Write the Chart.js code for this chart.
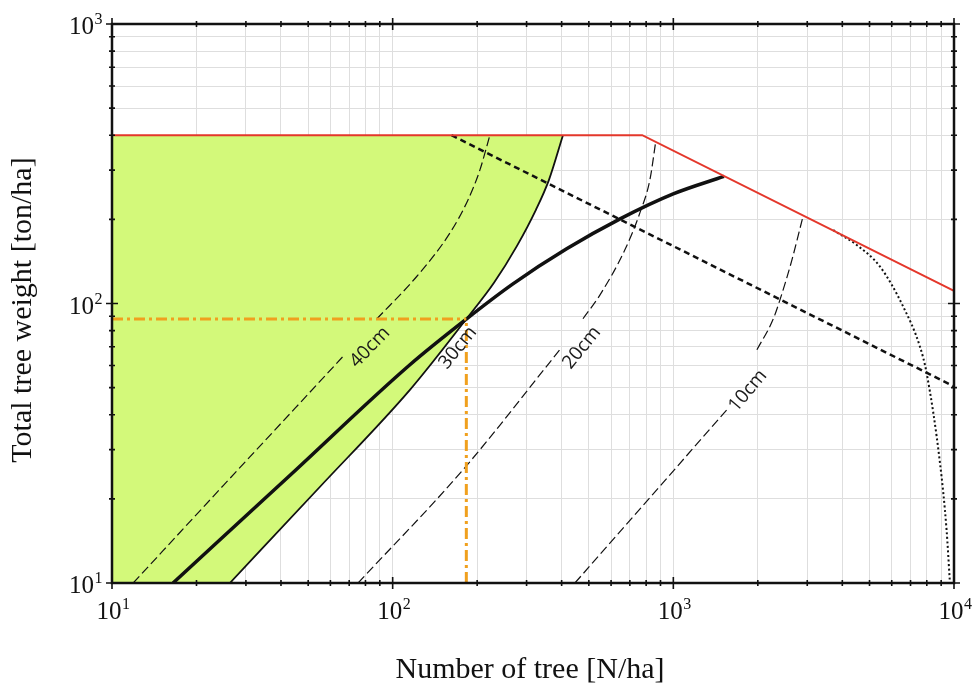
<!DOCTYPE html>
<html>
<head>
<meta charset="utf-8">
<script src="https://cdn.jsdelivr.net/npm/chart.js@4.4.1/dist/chart.umd.min.js"></script>
<style>
html, body { margin: 0; padding: 0; background: #ffffff; }
canvas { display: block; }
</style>
</head>
<body>
<canvas id="grafico" width="977" height="693"></canvas>
<script>
// marcas de los ejes (escala logaritmica)
const xTicks = [10, 20, 30, 40, 50, 60, 70, 80, 90, 100, 200, 300, 400, 500, 600, 700, 800, 900,
    1000, 2000, 3000, 4000, 5000, 6000, 7000, 8000, 9000, 10000];
const yTicks = [10, 20, 30, 40, 50, 60, 70, 80, 90, 100, 200, 300, 400, 500, 600, 700, 800, 900, 1000];
const majorTicks = [10, 100, 1000, 10000];
const xLabels = [[10, '1'], [100, '2'], [1000, '3'], [10000, '4']];
const yLabels = [[10, '1'], [100, '2'], [1000, '3']];

// linea limite (roja)
const limiteN = [10, 775, 10000];
const limiteW = [400, 400, 111];

// linea gruesa
const mediaN = [16.5, 43.1, 115.2, 183, 268.3, 416.8, 646, 999, 1515];
const mediaW = [10, 24.3, 60.4, 88, 117.6, 156.9, 200.8, 246.7, 285];

// borde de la zona verde (30cm)
const cm30N = [26.3, 55.1, 115.2, 183, 229.6, 277.3, 323.9, 360.5, 404.3];
const cm30W = [10, 22.1, 49.1, 88, 118.6, 160.8, 216.3, 276.9, 400];
const franjaN = [10, 27];
const franjaW = [10, 10];

// recta discontinua
const rectaN = [162, 10000];
const rectaW = [400, 50.5];

// curva punteada
const puntosN = [3713, 4500, 5448, 6590, 7559, 7988, 8913, 9408, 9672];
const puntosW = [183, 162, 135.6, 97.5, 70.2, 56.4, 26.9, 15.5, 10];

// curvas de diametro (null = hueco para la etiqueta)
const cm40N = [11.9, 25, 45, 66.5, 77, 87.7, 121.8, 160, 185.5, 204.6, 222];
const cm40W = [10, 22.4, 42.3, 64.6, null, 88, 124.9, 178.8, 234.8, 300.6, 400];
const cm20N = [75.3, 178, 394, 430, 476.6, 548, 672, 760, 825, 865];
const cm20W = [10, 25.4, 68.3, null, 88.2, 107.4, 155.6, 211, 276.9, 378];
const cm10N = [446, 825, 1552, 1750, 1985, 2263, 2398, 2646, 2895];
const cm10W = [10, 20.2, 41.7, null, 68.3, 87.4, 103, 143.3, 204.2];

// lineas naranjas
const naranjaHN = [10, 183];
const naranjaHW = [88, 88];
const naranjaVN = [183, 183];
const naranjaVW = [10, 88];

// etiquetas de las curvas
const etiquetas = [
    { texto: '40cm', n: 83, w: 69.7, ang: -46 },
    { texto: '30cm', n: 170.9, w: 69.4, ang: -51 },
    { texto: '20cm', n: 472, w: 69.4, ang: -51 },
    { texto: '10cm', n: 1844, w: 48.7, ang: -50 }
];

const puntos = (xs, ys) => xs.map((x, i) => ({ x: x, y: ys[i] }));

const linea = (xs, ys, extra) => Object.assign({
    data: puntos(xs, ys),
    borderColor: '#111111',
    borderWidth: 1,
    pointRadius: 0,
    fill: false,
    tension: 0,
    spanGaps: false
}, extra);

const marco = {
    id: 'marco',
    afterDatasetsDraw(chart) {
        const ctx = chart.ctx;
        const a = chart.chartArea;
        const x = chart.scales.x;
        const y = chart.scales.y;
        ctx.save();
        ctx.strokeStyle = '#111111';
        ctx.lineWidth = 2.5;
        ctx.strokeRect(a.left, a.top, a.right - a.left, a.bottom - a.top);
        ctx.lineWidth = 1.6;
        ctx.beginPath();
        xTicks.forEach(v => {
            const px = x.getPixelForValue(v);
            const l = majorTicks.includes(v) ? 6 : 3;
            ctx.moveTo(px, a.top - l); ctx.lineTo(px, a.top + l);
            ctx.moveTo(px, a.bottom - l); ctx.lineTo(px, a.bottom + l);
        });
        yTicks.forEach(v => {
            const py = y.getPixelForValue(v);
            const l = majorTicks.includes(v) ? 6 : 3;
            ctx.moveTo(a.left - l, py); ctx.lineTo(a.left + l, py);
            ctx.moveTo(a.right - l, py); ctx.lineTo(a.right + l, py);
        });
        ctx.stroke();

        // etiquetas 10^n
        ctx.fillStyle = '#111111';
        const base = '25px "Liberation Serif"';
        const expo = '16px "Liberation Serif"';
        const potencia = (e, cx, by, alinear) => {
            ctx.font = base;
            const w1 = ctx.measureText('10').width;
            ctx.font = expo;
            const w2 = ctx.measureText(e).width;
            let x0 = alinear === 'right' ? cx - w1 - w2 : cx - (w1 + w2) / 2;
            ctx.textAlign = 'left';
            ctx.textBaseline = 'alphabetic';
            ctx.font = base;
            ctx.fillText('10', x0, by);
            ctx.font = expo;
            ctx.fillText(e, x0 + w1 + 0.5, by - 10);
        };
        xLabels.forEach(([v, e]) => potencia(e, x.getPixelForValue(v) + 1, a.bottom + 36, 'center'));
        yLabels.forEach(([v, e]) => potencia(e, a.left - 10, y.getPixelForValue(v) + 10, 'right'));

        // titulos de los ejes
        ctx.font = '30px "Liberation Serif"';
        ctx.textAlign = 'center';
        ctx.textBaseline = 'alphabetic';
        ctx.fillText('Number of tree [N/ha]', 530, 678);
        ctx.save();
        ctx.translate(31, 310);
        ctx.rotate(-Math.PI / 2);
        ctx.fillText('Total tree weight [ton/ha]', 0, 0);
        ctx.restore();

        // etiquetas de diametro
        ctx.font = '19px "Open Sans"';
        ctx.fillStyle = '#1a1a1a';
        ctx.textBaseline = 'middle';
        etiquetas.forEach(t => {
            ctx.save();
            ctx.translate(x.getPixelForValue(t.n), y.getPixelForValue(t.w));
            ctx.rotate(t.ang * Math.PI / 180);
            ctx.fillText(t.texto, 0, 0);
            ctx.restore();
        });
        ctx.restore();
    }
};

const curva = { cubicInterpolationMode: 'monotone' };
const fino = Object.assign({ borderColor: '#111111', borderWidth: 1.2, borderDash: [9, 4] }, curva);

const grafico = document.getElementById('grafico').getContext('2d');
const myChart = new Chart(grafico, {
    type: 'line',
    data: {
        datasets: [
            linea(naranjaHN, naranjaHW, { borderColor: '#f0a01e', borderWidth: 3, borderDash: [11, 4, 3, 4] }),
            linea(naranjaVN, naranjaVW, { borderColor: '#f0a01e', borderWidth: 3, borderDash: [11, 4, 3, 4] }),
            linea(limiteN, limiteW, { borderColor: '#e4372b', borderWidth: 2 }),
            linea(mediaN, mediaW, Object.assign({ borderWidth: 3.5 }, curva)),
            linea(rectaN, rectaW, { borderWidth: 2.5, borderDash: [6, 4] }),
            linea(puntosN, puntosW, Object.assign({ borderWidth: 2, borderDash: [2, 2.5] }, curva)),
            linea(cm40N, cm40W, fino),
            linea(cm20N, cm20W, fino),
            linea(cm10N, cm10W, fino),
            linea(cm30N, cm30W, Object.assign({
                borderWidth: 1.8,
                fill: { value: 400 },
                backgroundColor: '#d3f97a'
            }, curva)),
            linea(franjaN, franjaW, {
                borderWidth: 0,
                fill: { value: 400 },
                backgroundColor: '#d3f97a'
            })
        ]
    },
    options: {
        responsive: false,
        animation: false,
        devicePixelRatio: 1,
        events: [],
        layout: { padding: { left: 112, top: 24, right: 23, bottom: 110 } },
        scales: {
            x: {
                type: 'logarithmic',
                min: 10,
                max: 10000,
                afterBuildTicks: (scale) => { scale.ticks = xTicks.map(v => ({ value: v })); },
                grid: { color: '#dedede', lineWidth: 1, drawTicks: false },
                border: { display: false },
                ticks: { display: false }
            },
            y: {
                type: 'logarithmic',
                min: 10,
                max: 1000,
                afterBuildTicks: (scale) => { scale.ticks = yTicks.map(v => ({ value: v })); },
                grid: { color: '#dedede', lineWidth: 1, drawTicks: false },
                border: { display: false },
                ticks: { display: false }
            }
        },
        plugins: {
            legend: { display: false },
            tooltip: { enabled: false }
        }
    },
    plugins: [marco]
});
</script>
</body>
</html>
